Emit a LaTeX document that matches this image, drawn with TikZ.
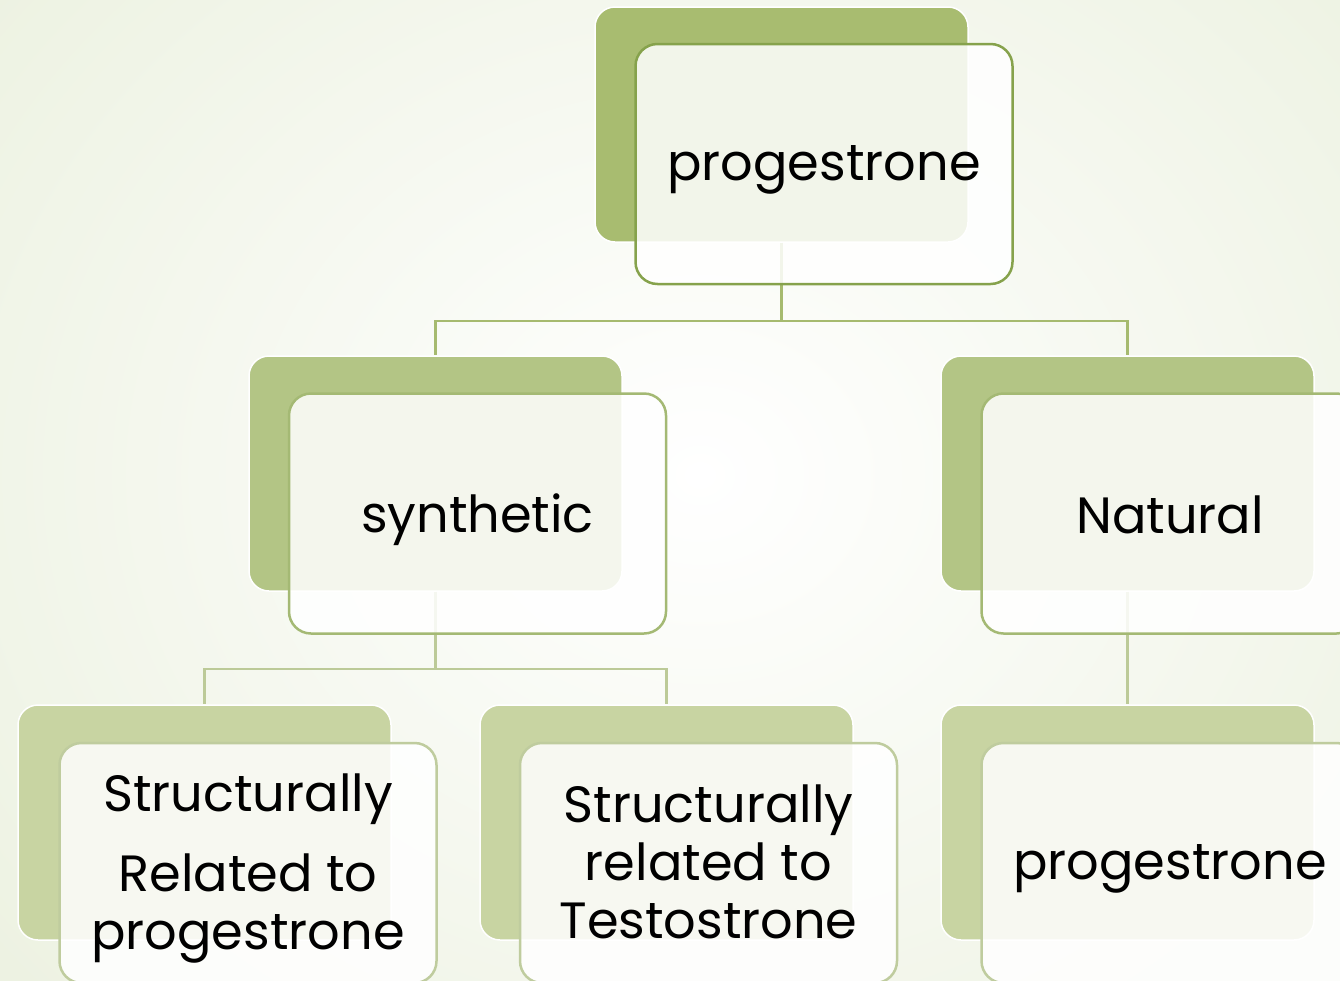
\documentclass[tikz,border=0pt]{standalone}
\usepackage{fontspec}
\setmainfont{Poppins}
\usetikzlibrary{calc}
\definecolor{bgedge}{HTML}{EDF2E2}
\definecolor{backA}{HTML}{A8BC70}
\definecolor{backB}{HTML}{B3C585}
\definecolor{backC}{HTML}{C8D4A2}
\definecolor{frameA}{HTML}{86A24C}
\definecolor{frameB}{HTML}{A4B974}
\definecolor{frameC}{HTML}{BFCC9E}
\definecolor{lineA}{HTML}{A6BA6F}
\definecolor{lineB}{HTML}{BCCA98}
\tikzset{
  backbox/.style={draw=white, line width=1.5pt, rounded corners=20pt, minimum width=373pt, minimum height=235pt, inner sep=0pt},
  frontbox/.style={fill=white, fill opacity=0.86, text opacity=1, line width=2.5pt, rounded corners=22pt, minimum width=377pt, minimum height=240pt, inner sep=0pt},
  label/.style={align=center, font=\fontsize{51}{58}\selectfont},
  conn/.style={line width=2.5pt}
}
\begin{document}
\begin{tikzpicture}[x=1pt,y=-1pt]
\useasboundingbox (0,0) rectangle (1340,980);
\clip (0,0) rectangle (1340,980);
\shade[inner color=white, outer color=bgedge] (-200,-300) rectangle (1600,1250);
% back boxes
\node[backbox, fill=backA] (topB) at (781.5,124.5) {};
\node[backbox, fill=backB] (synB) at (435.5,473.5) {};
\node[backbox, fill=backB] (natB) at (1127.5,473.5) {};
\node[backbox, fill=backC] (s1B) at (204.5,822.5) {};
\node[backbox, fill=backC] (s2B) at (666.5,822.5) {};
\node[backbox, fill=backC] (n1B) at (1127.5,822.5) {};
% connectors
\draw[conn, draw=lineA] (topB.south) -- ++(0,78) coordinate (j1) -| (synB.north);
\draw[conn, draw=lineA] (j1) -| (natB.north);
\draw[conn, draw=lineB] (synB.south) -- ++(0,77) coordinate (j2) -| (s1B.north);
\draw[conn, draw=lineB] (j2) -| (s2B.north);
\draw[conn, draw=lineB] (natB.south) -- (n1B.north);
% front boxes
\node[frontbox, draw=frameA] (top) at (824,164) {};
\node[frontbox, draw=frameB] (syn) at (477.5,513.5) {};
\node[frontbox, draw=frameB] (nat) at (1170,513.5) {};
\node[frontbox, draw=frameC] (s1) at (248,863) {};
\node[frontbox, draw=frameC] (s2) at (708.5,863) {};
\node[frontbox, draw=frameC] (n1) at (1170,863) {};
% labels
\node[label] (topT) at ([yshift=-6pt]top.center) {progestrone};
\node[label] (synT) at ([yshift=-6pt]syn.center) {synthetic};
\node[label] (natT) at ([yshift=-1pt]nat.center) {Natural};
\node[label] (s1T) at ([yshift=-5pt]s1.center) {Structurally\\[22pt]Related to\\progestrone};
\node[label] (s2T) at ([yshift=1pt]s2.center) {Structurally\\related to\\Testostrone};
\node[label] (n1T) at ([yshift=-6pt]n1.center) {progestrone};
\end{tikzpicture}
\end{document}
